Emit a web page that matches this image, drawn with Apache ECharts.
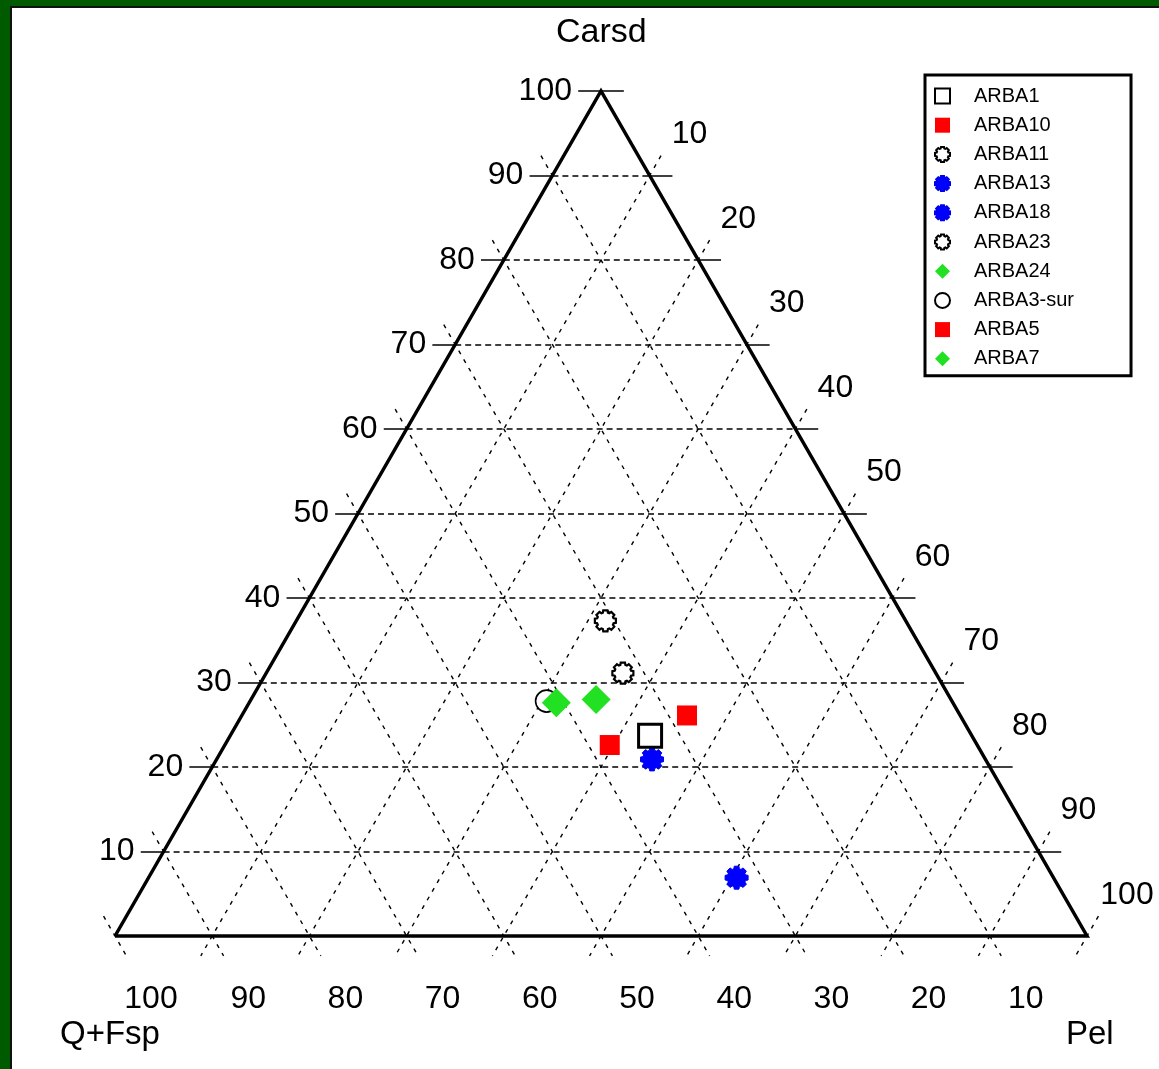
<!DOCTYPE html>
<html>
<head>
<meta charset="utf-8">
<script src="https://cdn.jsdelivr.net/npm/echarts/dist/echarts.min.js"></script>
<style>
html,body{margin:0;padding:0;}
#wrap{position:relative;width:1159px;height:1069px;background:#005a00;overflow:hidden;}
#panel{position:absolute;left:10px;top:6px;right:-4px;bottom:-4px;background:#fff;border-left:2px solid #111;border-top:2px solid #111;}
#c{position:absolute;left:0;top:0;width:1159px;height:1069px;}
</style>
</head>
<body>
<div id="wrap"><div id="panel"></div><div id="c"></div></div>
<script>
// ---- data (ternary compositions, %) ----
const samples = ['ARBA1','ARBA10','ARBA11','ARBA13','ARBA18','ARBA23','ARBA24','ARBA3-sur','ARBA5','ARBA7'];
const qfsp  = [33.1, 28.1, 30.9, 34.3, 32.6, 32.2, 36.5, 41.7, 37.8, 40.8];
const pel   = [43.2, 45.8, 31.8, 44.8, 60.5, 36.7, 35.5, 30.5, 39.6, 31.6];
const carsd = [23.7, 26.1, 37.3, 20.9,  6.9, 31.1, 28.0, 27.8, 22.6, 27.6];
const tickValues = [10, 20, 30, 40, 50, 60, 70, 80, 90, 100];
const axisTitles = { top: 'Carsd', left: 'Q+Fsp', right: 'Pel' };

// ---- ternary -> cartesian ----
const SQ = Math.sqrt(3) / 2;
function tern(q, p, c) { const s = q + p + c; return [(p + c / 2) * 100 / s, c * SQ * 100 / s]; }

// gear symbol path
function gearPath() {
  const pts = [];
  for (let j = 0; j < 8; j++) {
    const a = j * Math.PI / 4;
    [[-0.30, 40], [-0.20, 50], [0.20, 50], [0.30, 40]].forEach(([da, r]) => {
      pts.push([50 + r * Math.cos(a + da), 50 + r * Math.sin(a + da)]);
    });
  }
  return 'path://M' + pts.map(p => p[0].toFixed(2) + ',' + p[1].toFixed(2)).join('L') + 'Z';
}
const GEAR = gearPath();

const styles = {
  'ARBA1':     { symbol: 'rect', size: 23, itemStyle: { color: '#fff', borderColor: '#000', borderWidth: 3 }, z: 5 },
  'ARBA10':    { symbol: 'rect', size: 20, itemStyle: { color: '#ff0000' } },
  'ARBA11':    { symbol: GEAR, size: 21, itemStyle: { color: '#fff', borderColor: '#000', borderWidth: 2.2 } },
  'ARBA13':    { symbol: GEAR, size: 23, itemStyle: { color: '#0000ff', borderColor: '#0000ee', borderWidth: 1 } },
  'ARBA18':    { symbol: GEAR, size: 23, itemStyle: { color: '#0000ff', borderColor: '#0000ee', borderWidth: 1 } },
  'ARBA23':    { symbol: GEAR, size: 21, itemStyle: { color: '#fff', borderColor: '#000', borderWidth: 2.2 } },
  'ARBA24':    { symbol: 'diamond', size: 29, itemStyle: { color: '#22e022' } },
  'ARBA3-sur': { symbol: 'circle', size: 22, itemStyle: { color: '#fff', borderColor: '#000', borderWidth: 1.6 } },
  'ARBA5':     { symbol: 'rect', size: 20, itemStyle: { color: '#ff0000' } },
  'ARBA7':     { symbol: 'diamond', size: 29, itemStyle: { color: '#22e022' } }
};

// ---- grid lines ----
const EXT = 2.35;
const hDashed = [], hSolid = [], diag = [];
tickValues.forEach(k => {
  const y = k * SQ;
  const xl = k / 2, xr = 100 - k / 2;
  if (k < 100) hDashed.push({ coords: [[xl, y], [xr, y]] });
  hSolid.push({ coords: [[xl - EXT, y], [xl, y]] });
  hSolid.push({ coords: [[xr, y], [xr + EXT, y]] });
  // Q = k line (parallel to right edge)
  let A = tern(k, 0, 100 - k), B = tern(k, 100 - k, 0);
  let d = [0.5, -SQ];
  diag.push({ coords: [[A[0] - d[0] * EXT, A[1] - d[1] * EXT], [B[0] + d[0] * EXT, B[1] + d[1] * EXT]] });
  // P = k line (parallel to left edge)
  A = tern(0, k, 100 - k); B = tern(100 - k, k, 0);
  d = [-0.5, -SQ];
  diag.push({ coords: [[A[0] - d[0] * EXT, A[1] - d[1] * EXT], [B[0] + d[0] * EXT, B[1] + d[1] * EXT]] });
});

const FONT = 'Liberation Sans';
const labelSeries = (name, pts, texts, lab) => ({
  type: 'scatter', name: name, silent: true, symbolSize: 1, z: 6,
  itemStyle: { color: 'rgba(0,0,0,0)', opacity: 1 },
  label: Object.assign({ show: true, position: 'inside', fontFamily: FONT, fontSize: 32, color: '#000', opacity: 1,
    formatter: p => texts[p.dataIndex] }, lab),
  data: pts
});

const series = [
  { type: 'lines', coordinateSystem: 'cartesian2d', polyline: false, silent: true, clip: false, z: 1,
    lineStyle: { color: '#000', width: 1.4, type: [4, 6], opacity: 1 }, data: diag },
  { type: 'lines', coordinateSystem: 'cartesian2d', polyline: false, silent: true, clip: false, z: 1,
    lineStyle: { color: '#000', width: 1.6, type: [6, 4], opacity: 1 }, data: hDashed },
  { type: 'lines', coordinateSystem: 'cartesian2d', polyline: false, silent: true, clip: false, z: 1,
    lineStyle: { color: '#000', width: 1.5, type: 'solid', opacity: 1 }, data: hSolid },
  { type: 'lines', coordinateSystem: 'cartesian2d', polyline: true, silent: true, clip: false, z: 2,
    lineStyle: { color: '#000', width: 3.5, type: 'solid', opacity: 1, join: 'miter' },
    data: [{ coords: [tern(100, 0, 0), tern(0, 100, 0), tern(0, 0, 100), tern(100, 0, 0)] }] },
  // bottom labels (Q+Fsp)
  labelSeries('_qlab', tickValues.map(v => tern(v, 100 - v, 0)), tickValues.map(String),
    { offset: [36, 63], align: 'center', verticalAlign: 'middle' }),
  // left labels (Carsd)
  labelSeries('_clab', tickValues.map(v => tern(100 - v, 0, v)), tickValues.map(String),
    { offset: [-29, 0], align: 'right', verticalAlign: 'middle' }),
  // right labels (Pel)
  labelSeries('_plab', tickValues.map(v => tern(0, v, 100 - v)), tickValues.map(String),
    { offset: [40, -41], align: 'center', verticalAlign: 'middle' })
];

samples.forEach((s, i) => {
  const st = styles[s];
  series.push({
    type: 'scatter', name: s, symbol: st.symbol, symbolSize: st.size, z: st.z || 3,
    itemStyle: Object.assign({ opacity: 1 }, st.itemStyle), clip: false,
    data: [tern(qfsp[i], pel[i], carsd[i])]
  });
});

const chart = echarts.init(document.getElementById('c'), null, { renderer: 'canvas' });
chart.setOption({
  animation: false,
  backgroundColor: 'transparent',
  grid: { left: 115, top: 91, width: 972, height: 845 },
  xAxis: { type: 'value', min: 0, max: 100, show: false },
  yAxis: { type: 'value', min: 0, max: 100 * SQ, show: false },
  legend: {
    orient: 'vertical', left: 925, top: 75, data: samples, selectedMode: false,
    itemWidth: 15, itemHeight: 15, itemGap: 9.2, padding: [11, 57, 7, 9],
    backgroundColor: '#fff', borderColor: '#000', borderWidth: 3,
    textStyle: { fontFamily: FONT, fontSize: 20, color: '#000', lineHeight: 20, padding: [0, 0, 0, 19] }
  },
  graphic: [
    { type: 'text', left: 556, top: 16, style: { text: axisTitles.top, font: '34px "Liberation Sans"', fill: '#000' } },
    { type: 'text', left: 60, top: 1018, style: { text: axisTitles.left, font: '33px "Liberation Sans"', fill: '#000' } },
    { type: 'text', left: 1066, top: 1018, style: { text: axisTitles.right, font: '33px "Liberation Sans"', fill: '#000' } }
  ],
  series: series
});
</script>
</body>
</html>
